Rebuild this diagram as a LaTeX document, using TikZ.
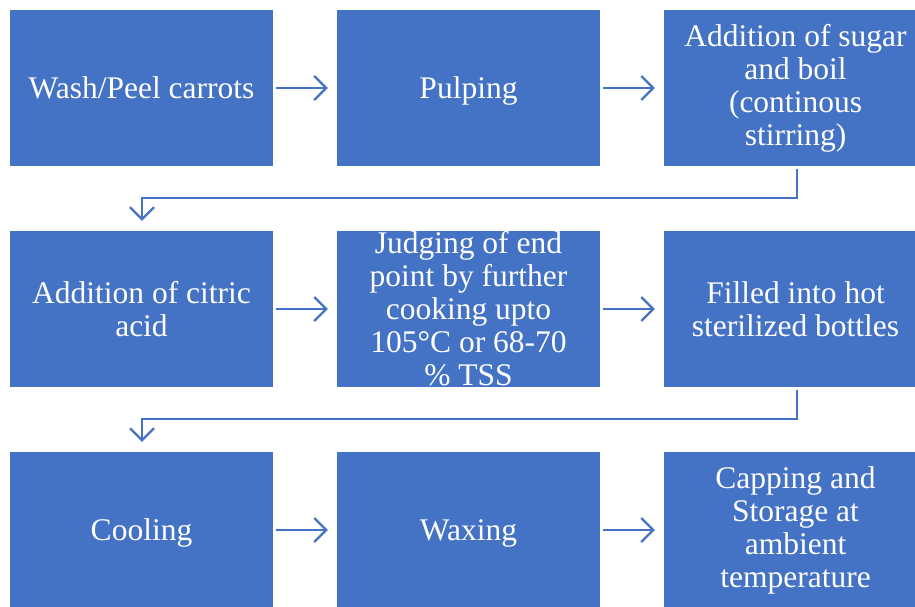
\documentclass[tikz,border=0pt]{standalone}
\usepackage{fontspec}
\setmainfont{Liberation Serif}
\usetikzlibrary{arrows.meta}
\definecolor{boxblue}{HTML}{4472C4}
\newcommand{\lowertxt}[1]{\raisebox{-3pt}[\height][\depth]{#1}}
\begin{document}
\begin{tikzpicture}[x=1pt,y=-1pt,
  stepbox/.style={fill=boxblue, draw=none, text=white, minimum width=263pt, minimum height=156pt,
    inner sep=0pt, align=center, font=\fontsize{31.5}{33}\selectfont, anchor=center},
  conn/.style={draw=boxblue, line width=2.2pt, -{Straight Barb[length=12pt,width=24pt,line width=2.2pt]}},
  elbow/.style={draw=boxblue, line width=2.2pt, -{Straight Barb[length=12pt,width=24pt,line width=2.2pt]}}]
\useasboundingbox (0,0) rectangle (915,607);
\node[stepbox] (a) at (141.5,88) {Wash/Peel carrots};
\node[stepbox] (b) at (468.5,88) {\lowertxt{Pulping}};
\node[stepbox] (c) at (795.5,88) {Addition of sugar\\and boil\\(continous\\stirring)};
\node[stepbox] (d) at (141.5,309) {Addition of citric\\acid};
\node[stepbox] (e) at (468.5,309) {Judging of end\\point by further\\cooking upto\\105°C or 68-70\\\% TSS};
\node[stepbox] (f) at (795.5,309) {Filled into hot\\sterilized bottles};
\node[stepbox] (g) at (141.5,530) {\lowertxt{Cooling}};
\node[stepbox] (h) at (468.5,530) {\lowertxt{Waxing}};
\node[stepbox] (i) at (795.5,530) {Capping and\\Storage at\\ambient\\temperature};
\draw[conn] ([xshift=3pt]a.east) -- ([xshift=-9pt]b.west);
\draw[conn] ([xshift=3pt]b.east) -- ([xshift=-9pt]c.west);
\draw[conn] ([xshift=3pt]d.east) -- ([xshift=-9pt]e.west);
\draw[conn] ([xshift=3pt]e.east) -- ([xshift=-9pt]f.west);
\draw[conn] ([xshift=3pt]g.east) -- ([xshift=-9pt]h.west);
\draw[conn] ([xshift=3pt]h.east) -- ([xshift=-9pt]i.west);
\coordinate (c1) at (797,198);
\coordinate (c2) at (142,198);
\coordinate (f1) at (797,419);
\coordinate (f2) at (142,419);
\draw[elbow] ([yshift=-3pt]c.south -| c1) -- (c1) -- (c2) -- ([yshift=10pt]d.north -| c2);
\draw[elbow] ([yshift=-3pt]f.south -| f1) -- (f1) -- (f2) -- ([yshift=10pt]g.north -| f2);
\end{tikzpicture}
\end{document}
